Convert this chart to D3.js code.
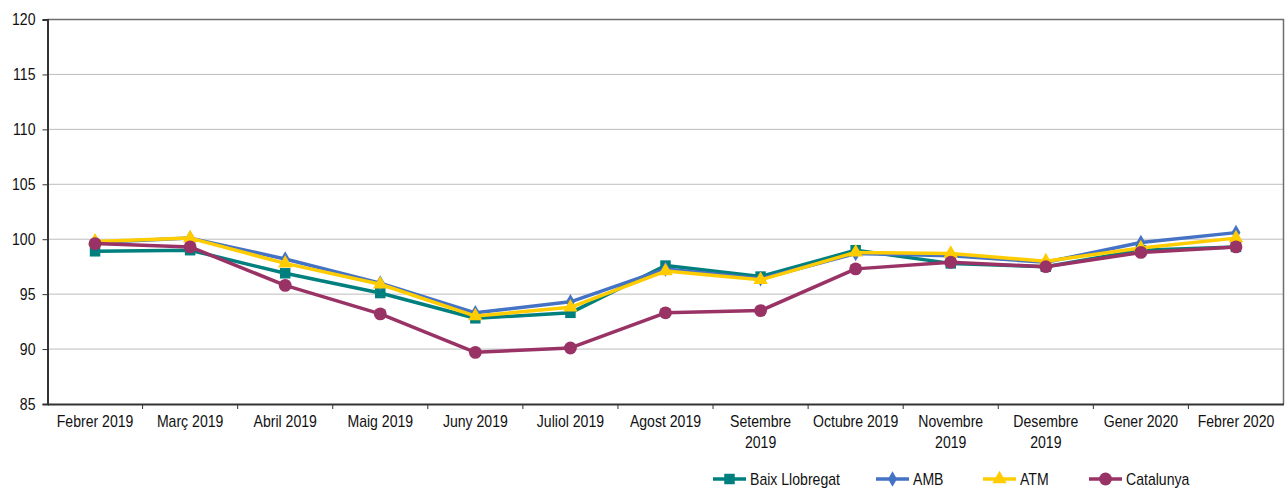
<!DOCTYPE html>
<html>
<head>
<meta charset="utf-8">
<script src="https://cdn.jsdelivr.net/npm/d3@7"></script>
<style>
  body { margin: 0; background: #fff; }
  svg text { font-family: "Liberation Sans", Arial, sans-serif; fill: #111; }
</style>
</head>
<body>
<div id="chart"></div>
<script>
const months = ['Febrer 2019', 'Març 2019', 'Abril 2019', 'Maig 2019', 'Juny 2019', 'Juliol 2019',
  'Agost 2019', 'Setembre 2019', 'Octubre 2019', 'Novembre 2019', 'Desembre 2019', 'Gener 2020', 'Febrer 2020'];

const baixLlobregat = [98.9, 99.0, 96.9, 95.1, 92.8, 93.3, 97.6, 96.6, 99.0, 97.8, 97.5, 99.0, 99.3];
const amb = [99.7, 100.1, 98.2, 96.0, 93.3, 94.3, 97.3, 96.4, 98.7, 98.5, 97.9, 99.7, 100.6];
const atm = [99.8, 100.1, 97.8, 95.9, 93.0, 93.8, 97.1, 96.3, 98.8, 98.7, 98.0, 99.2, 100.1];
const catalunya = [99.6, 99.3, 95.8, 93.2, 89.7, 90.1, 93.3, 93.5, 97.3, 97.9, 97.5, 98.8, 99.3];

const yTicks = [85, 90, 95, 100, 105, 110, 115, 120];

const series = [
  { name: 'Baix Llobregat', values: baixLlobregat, color: '#007F7F', marker: d3.symbolSquare, size: 110 },
  { name: 'AMB', values: amb, color: '#4472C4', marker: d3.symbolDiamond, size: 70 },
  { name: 'ATM', values: atm, color: '#FFCC00', marker: d3.symbolTriangle, size: 90 },
  { name: 'Catalunya', values: catalunya, color: '#993366', marker: d3.symbolCircle, size: 130 },
];

const width = 1285, height = 490;
const margin = { top: 19.5, right: 1.5, bottom: 86, left: 47.5 };
const sx = 0.88; // narrow-looking text

const svg = d3.select('#chart').append('svg')
  .attr('width', width)
  .attr('height', height);

const x = d3.scaleBand()
  .domain(months)
  .range([margin.left, width - margin.right]);

const y = d3.scaleLinear()
  .domain([85, 120])
  .range([height - margin.bottom, margin.top]);

// gridlines
svg.append('g')
  .selectAll('line')
  .data(yTicks.filter(d => d > 85 && d < 120))
  .join('line')
  .attr('x1', margin.left)
  .attr('x2', width - margin.right)
  .attr('y1', d => y(d))
  .attr('y2', d => y(d))
  .attr('stroke', '#7a7a7a')
  .attr('stroke-width', 1)
  .attr('stroke-dasharray', '1,1');

// top and right border
svg.append('path')
  .attr('d', `M${margin.left},${y(120)}H${width - margin.right}V${y(85)}`)
  .attr('fill', 'none')
  .attr('stroke', '#6e6e6e')
  .attr('stroke-width', 1.5);

// y axis
const yAxis = svg.append('g')
  .attr('transform', `translate(${margin.left},0)`)
  .call(d3.axisLeft(y).tickValues(yTicks).tickSize(5).tickPadding(6));
yAxis.select('.domain').attr('stroke', '#333').attr('stroke-width', 2);
yAxis.selectAll('.tick line').attr('stroke', '#333');
yAxis.selectAll('.tick text')
  .attr('font-size', 16)
  .attr('fill', '#111')
  .attr('x', -12 / sx)
  .attr('transform', `scale(${sx},1)`);

// x axis
const xAxis = svg.append('g')
  .attr('transform', `translate(0,${y(85)})`)
  .call(d3.axisBottom(x).tickSize(0).tickPadding(12));
xAxis.select('.domain').attr('stroke', '#333').attr('stroke-width', 2);
xAxis.selectAll('.tick text')
  .attr('font-size', 16)
  .attr('fill', '#111')
  .attr('transform', `scale(${sx},1)`)
  .each(function(d) {
    const t = d3.select(this);
    if (this.getComputedTextLength() * sx > 88) {
      const parts = d.split(' ');
      t.text(null);
      parts.forEach((p, i) => {
        t.append('tspan').attr('x', 0).attr('dy', i === 0 ? '0.71em' : '1.3em').text(p);
      });
    }
  });

// tick marks at band edges
svg.append('g')
  .selectAll('line')
  .data(months.slice(1))
  .join('line')
  .attr('x1', d => x(d))
  .attr('x2', d => x(d))
  .attr('y1', y(85))
  .attr('y2', y(85) + 5)
  .attr('stroke', '#333');

const line = d3.line()
  .x((d, i) => x(months[i]) + x.bandwidth() / 2)
  .y(d => y(d));

const g = svg.append('g');
series.forEach(s => {
  g.append('path')
    .datum(s.values)
    .attr('d', line)
    .attr('fill', 'none')
    .attr('stroke', s.color)
    .attr('stroke-width', 3.5)
    .attr('stroke-linejoin', 'round');
  g.selectAll(null)
    .data(s.values)
    .join('path')
    .attr('transform', (d, i) => `translate(${x(months[i]) + x.bandwidth() / 2},${y(d)})`)
    .attr('d', d3.symbol(s.marker, s.size))
    .attr('fill', s.color);
});

// legend
const legendX = [713, 876, 983, 1089];
const legend = svg.append('g')
  .selectAll('g')
  .data(series)
  .join('g')
  .attr('transform', (d, i) => `translate(${legendX[i]},479)`);
legend.append('line')
  .attr('x1', 0).attr('x2', 33)
  .attr('stroke', d => d.color)
  .attr('stroke-width', 3.5);
legend.append('path')
  .attr('transform', 'translate(16.5,0)')
  .attr('d', d => d3.symbol(d.marker, d.size)())
  .attr('fill', d => d.color);
legend.append('text')
  .attr('transform', `translate(37,0) scale(${sx},1)`)
  .attr('dy', '0.35em')
  .attr('font-size', 16)
  .text(d => d.name);
</script>
</body>
</html>
